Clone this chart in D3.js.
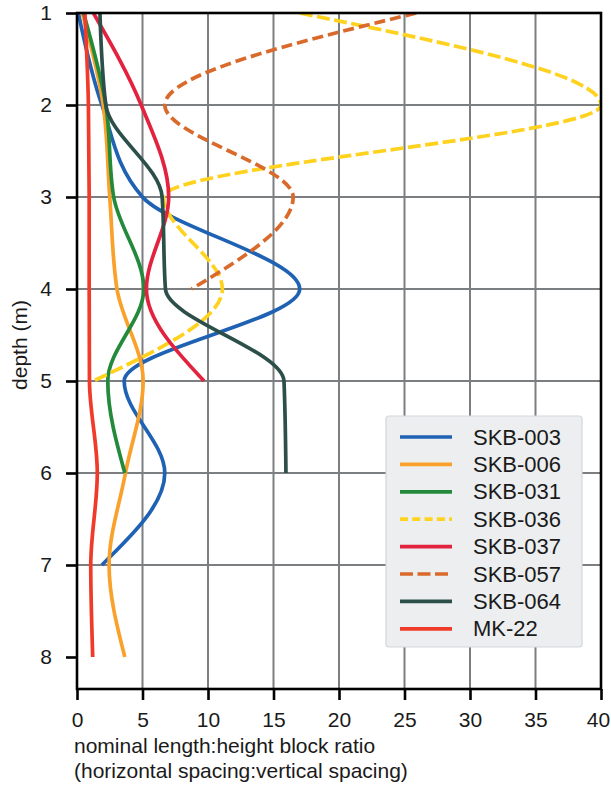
<!DOCTYPE html>
<html><head><meta charset="utf-8">
<script src="https://cdn.jsdelivr.net/npm/d3@7"></script>
<style>body{margin:0;background:#fff}svg{display:block}text{font-family:"Liberation Sans",Arial,sans-serif;fill:#1a1a1a}</style>
</head><body>
<div id="chart"></div>
<script>
const depths = [1, 2, 3, 4, 5, 6, 7, 8];
const seriesNames = ["SKB-003", "SKB-006", "SKB-031", "SKB-036", "SKB-037", "SKB-057", "SKB-064", "MK-22"];
const skb003 = [0.1, 1.9, 5.0, 17.0, 3.6, 6.7, 1.9];
const skb006 = [0.4, 2.0, 2.5, 3.05, 5.05, 3.7, 2.45, 3.65];
const skb031 = [0.5, 2.2, 2.8, 5.1, 2.35, 3.65];
const skb036 = [17.0, 40.0, 6.6, 11.1, 1.25];
const skb037 = [1.25, 4.9, 7.0, 5.3, 9.7];
const skb057 = [25.9, 6.7, 16.5, 8.75];
const skb064 = [1.75, 2.2, 6.5, 6.75, 15.8, 15.95];
const mk22 = [0.6, 0.87, 0.93, 0.93, 0.95, 1.55, 1.05, 1.2];
const xTicks = [0, 5, 10, 15, 20, 25, 30, 35, 40];
const yTicks = [1, 2, 3, 4, 5, 6, 7, 8];

const seriesValues = [skb003, skb006, skb031, skb036, skb037, skb057, skb064, mk22];
const colors = ["#1f62b3", "#f9a12b", "#238a3c", "#fed21f", "#e3223f", "#d96a2b", "#2c4f49", "#f03b2a"];
const dashes = [null, null, null, "13,4.5", null, "11,5", null, null];

const W = 611, H = 788;
const svg = d3.select("#chart").append("svg").attr("width", W).attr("height", H);
const x = d3.scaleLinear().domain([0, 40]).range([77, 601]);
const y = d3.scaleLinear().domain([1, 8.348]).range([13, 689]);

svg.append("defs").append("clipPath").attr("id", "clip")
  .append("rect").attr("x", x(0)).attr("y", y(1)).attr("width", x(40) - x(0)).attr("height", y(8.348) - y(1));

// grid
const grid = svg.append("g").attr("stroke", "#7b7f82").attr("stroke-width", 2);
grid.selectAll(".vg").data(xTicks.slice(1, -1)).join("line")
  .attr("x1", d => x(d)).attr("x2", d => x(d)).attr("y1", y(1)).attr("y2", y(8.348));
grid.selectAll(".hg").data(yTicks.filter(d => d > 1 && d < 8)).join("line")
  .attr("x1", x(0)).attr("x2", x(40)).attr("y1", d => y(d)).attr("y2", d => y(d));

// curves
const line = d3.line().x(d => x(d[0])).y(d => y(d[1])).curve(d3.curveMonotoneY);
const plot = svg.append("g").attr("clip-path", "url(#clip)");
seriesValues.forEach((vals, i) => {
  const pts = vals.map((v, j) => [v, depths[j]]);
  plot.append("path").attr("d", line(pts)).attr("fill", "none")
    .attr("stroke", colors[i]).attr("stroke-width", 3.7)
    .attr("stroke-dasharray", dashes[i]);
});

// frame
svg.append("rect").attr("x", x(0)).attr("y", y(1)).attr("width", x(40) - x(0)).attr("height", y(8.348) - y(1))
  .attr("fill", "none").attr("stroke", "#000").attr("stroke-width", 2.6);

// axes
const xAxis = svg.append("g").attr("transform", `translate(0,${y(8.348)})`)
  .call(d3.axisBottom(x).tickValues(xTicks).tickSize(11).tickPadding(12));
const yAxis = svg.append("g").attr("transform", `translate(${x(0)},0)`)
  .call(d3.axisLeft(y).tickValues(yTicks).tickSize(11).tickPadding(14));
[xAxis, yAxis].forEach(a => {
  a.select(".domain").remove();
  a.selectAll(".tick line").attr("stroke", "#000").attr("stroke-width", 2.6);
  a.selectAll(".tick text").attr("font-size", 21).attr("fill", "#1a1a1a")
    .attr("font-family", "Liberation Sans, Arial, sans-serif");
});
xAxis.selectAll(".tick text").filter(d => d === 40).attr("dx", -3);

// axis labels
svg.append("text").attr("transform", `translate(27,345) rotate(-90)`).attr("text-anchor", "middle")
  .attr("font-size", 21).text("depth (m)");
svg.append("text").attr("x", 74).attr("y", 753).attr("font-size", 21).text("nominal length:height block ratio");
svg.append("text").attr("x", 74).attr("y", 778).attr("font-size", 21).text("(horizontal spacing:vertical spacing)");

// legend
const lg = svg.append("g");
lg.append("rect").attr("x", 386).attr("y", 416).attr("width", 196).attr("height", 231).attr("rx", 3)
  .attr("fill", "#eceef0").attr("stroke", "#d3d6d9").attr("stroke-width", 1.2);
seriesNames.forEach((n, i) => {
  const yy = 437 + i * 27.4;
  lg.append("line").attr("x1", 400).attr("x2", 452).attr("y1", yy).attr("y2", yy)
    .attr("stroke", colors[i]).attr("stroke-width", 3.7).attr("stroke-dasharray", i === 3 ? "8,4.3" : (i === 5 ? "13,4.5" : null));
  lg.append("text").attr("x", 473).attr("y", yy + 7.5).attr("font-size", 22).text(n);
});
</script>
</body></html>
